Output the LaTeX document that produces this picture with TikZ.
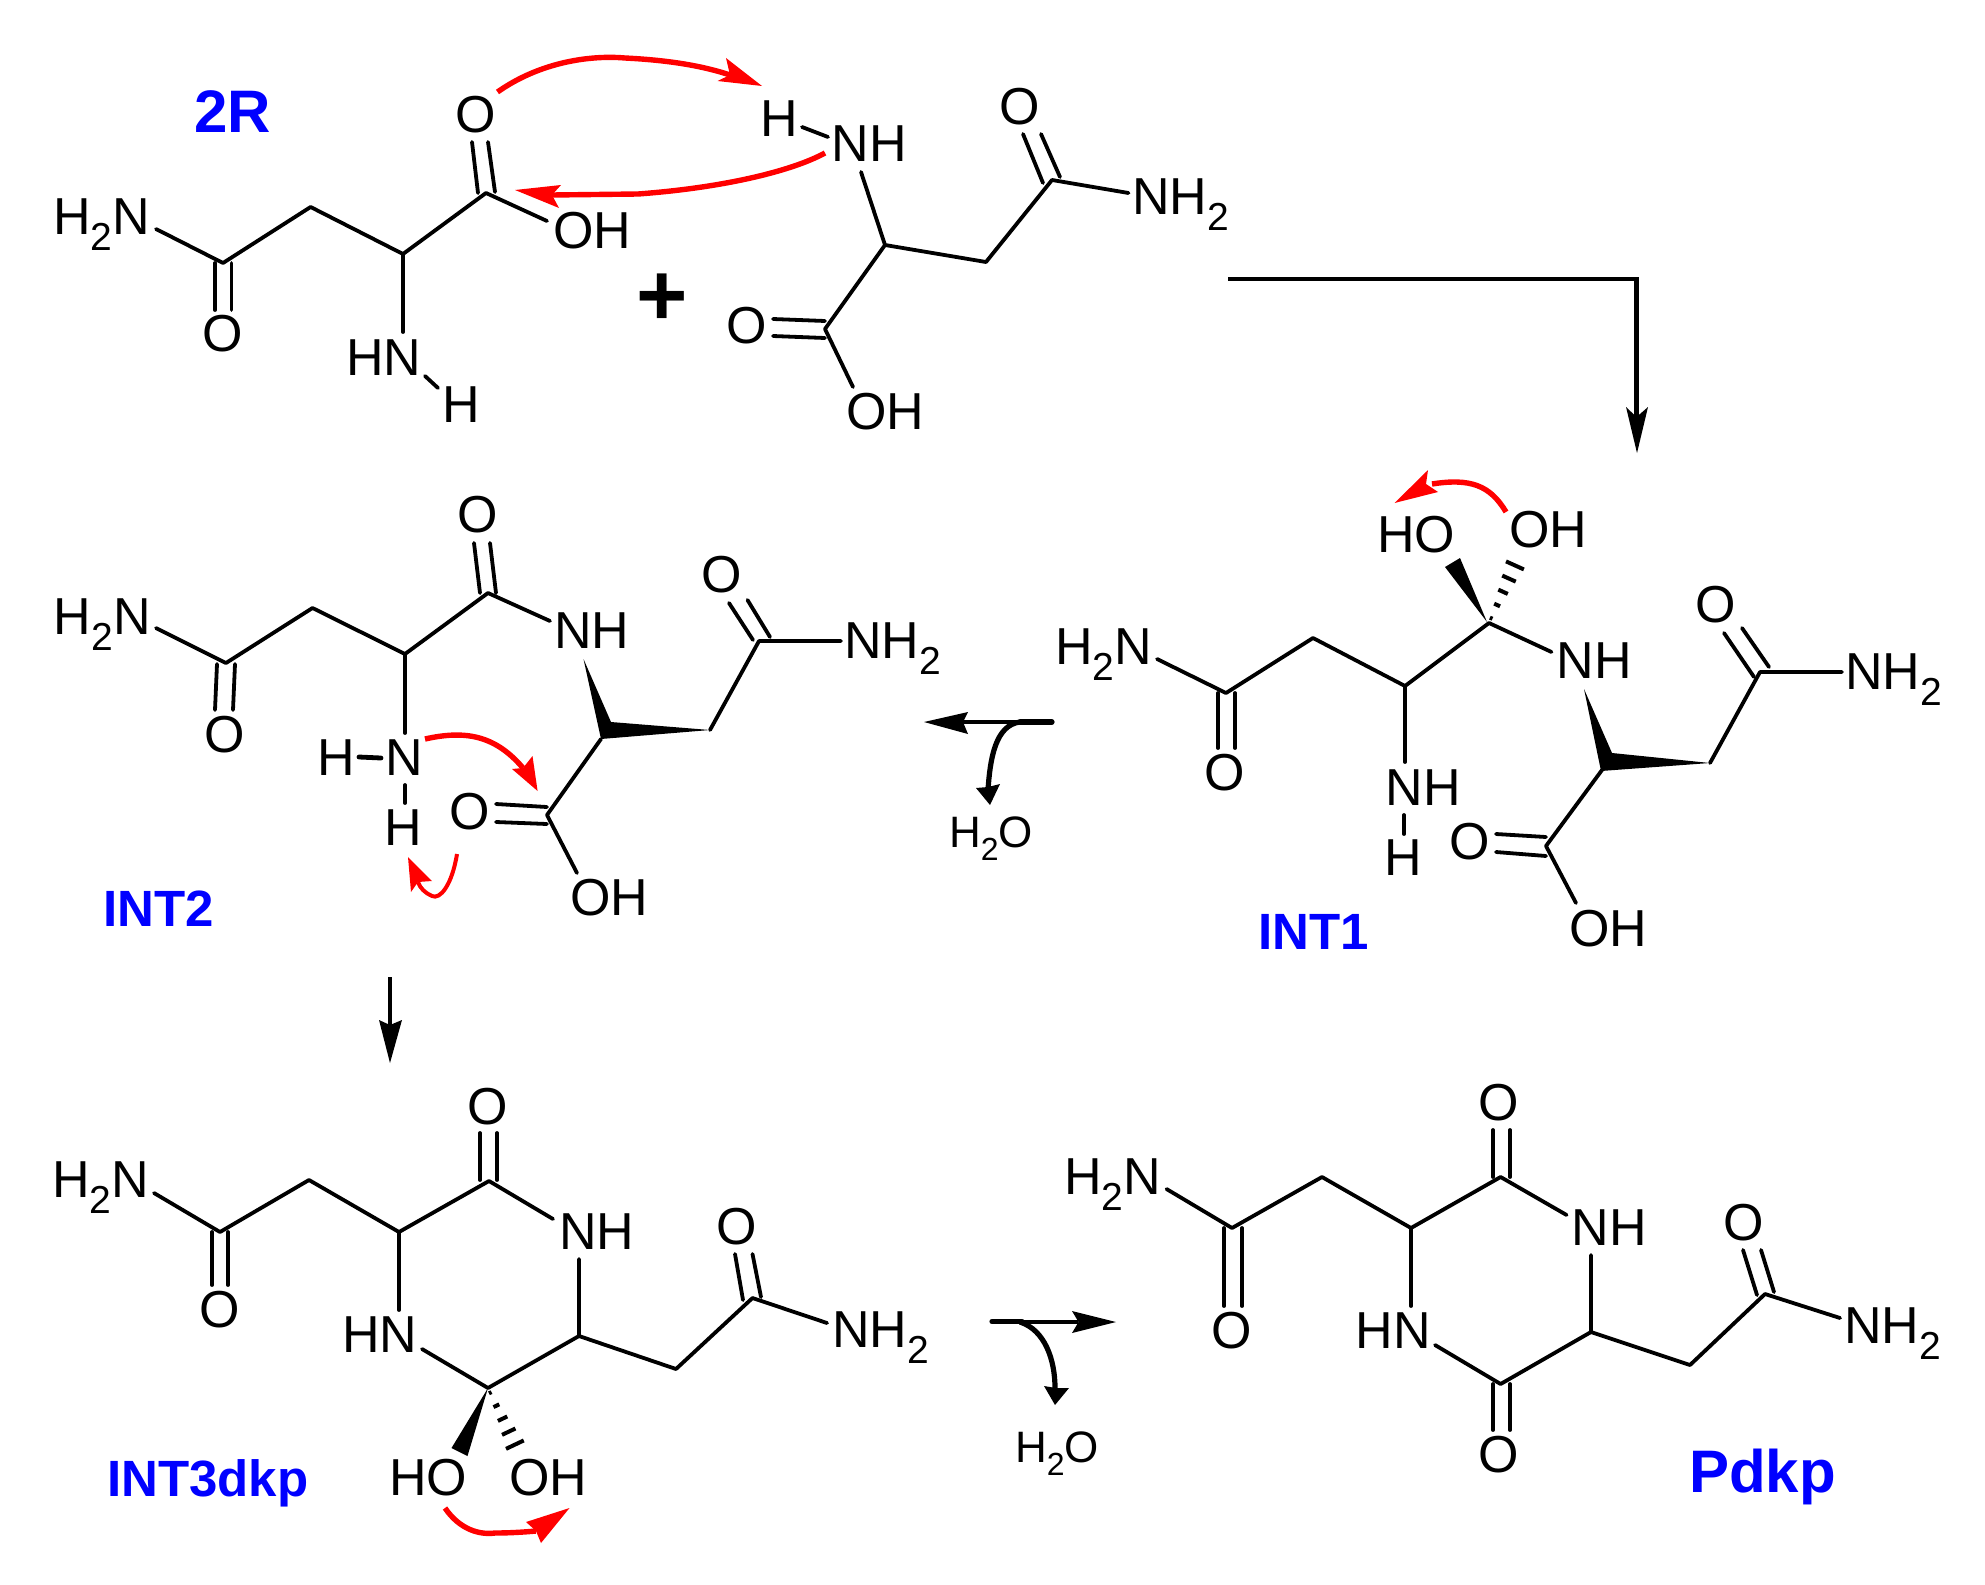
\documentclass[tikz,border=0pt]{standalone}
\usepackage{fontspec}
\setmainfont{Liberation Sans}
\usetikzlibrary{calc}
\newcommand{\lowtwo}{\raisebox{-8pt}{\fontsize{19.5}{19.5}\selectfont 2}}
\newcommand{\lowtwosmall}{\raisebox{-6.5pt}{\fontsize{16}{16}\selectfont 2}}
\tikzset{
  atom/.style={inner sep=0pt,outer sep=0pt,font=\fontsize{26}{26}\selectfont,text=black},
  water/.style={inner sep=0pt,outer sep=0pt,anchor=base west,font=\fontsize{22}{24}\selectfont,text=black},
  molname/.style={inner sep=0pt,outer sep=0pt,anchor=base west,font=\fontsize{25.5}{26}\selectfont\bfseries,text=namecol},
  bond/.style={line width=1.9pt,line cap=round,line join=round,black},
  hashline/.style={line width=2pt,black},
  redarc/.style={line width=2.7pt,red0},
  redarcthin/.style={line width=2pt,red0},
  react/.style={line width=2.1pt,black},
  reactthick/.style={line width=2.6pt,black},
}
\definecolor{namecol}{HTML}{0000FF}
\definecolor{red0}{HTML}{FF0000}
% tip, barb, notch, barb
\newcommand{\headshape}[5][black]{\fill[#1] (#2) -- (#3) -- (#4) -- (#5) -- cycle;}
\newcommand{\hashed}[2]{%
  \foreach \f/\w in {0.08/0.7,0.3/1.6,0.52/2.6,0.74/3.7,0.96/4.9}{%
    \coordinate (hp) at ($(#1)!\f!(#2)$);
    \draw[hashline] ($(hp)!\w pt!90:(#2)$) -- ($(hp)!\w pt!-90:(#2)$);
  }}
\begin{document}
\begin{tikzpicture}[x=0.5pt,y=-0.5pt]
\useasboundingbox (0,0) rectangle (1985,1584);
\path[fill=white] (0,0) rectangle (1985,1584);

%%%%%%%%%% 2R
\node[molname,font=\fontsize{30}{30}\selectfont\bfseries] (n2R) at (194,133) {2R};
\node[atom,anchor=base west] (rN) at (53,234) {H\lowtwo N};
\node[atom] (rO1) at (222.5,334) {O};
\node[atom] (rO2) at (476,115) {O};
\node[atom] (rOH) at (592,231) {OH};
\node[atom] (rHN) at (384,358) {HN};
\node[atom] (rH) at (461,405) {H};
\coordinate (ra) at (223,263); \coordinate (rb) at (310.6,207);
\coordinate (rc) at (403,254); \coordinate (rd) at (486,193);
\draw[bond] (156,229) -- (ra) -- (rb) -- (rc) -- (rd) -- (547,221);
\draw[bond] (rc) -- (403,332);
\draw[bond] (425,376) -- (438,388);
\draw[bond] (215,263) -- (215,310);
\draw[bond] (231.5,263) -- (231.5,310);
\draw[bond] (472,142) -- (478,193);
\draw[bond] (488,142) -- (495,192);

%%%%%%%%%% plus
\node[atom,font=\fontsize{44}{44}\selectfont\bfseries] (plus) at (662,300) {+};

%%%%%%%%%% second amino acid
\node[atom] (sH) at (779,119) {H};
\node[atom] (sNH) at (869,144) {NH};
\node[atom] (sO1) at (1020,107) {O};
\node[atom,anchor=base west] (sN) at (1132,214) {NH\lowtwo};
\node[atom] (sO2) at (747,326) {O};
\node[atom] (sOH) at (885,412) {OH};
\coordinate (sa) at (885,245); \coordinate (sb) at (986,262);
\coordinate (sc) at (1052,180); \coordinate (sd) at (825,329);
\draw[bond] (802,127) -- (828,137);
\draw[bond] (861,172) -- (sa) -- (sb) -- (sc) -- (1128.5,193);
\draw[bond] (sa) -- (sd) -- (853,387);
\draw[bond] (1023,134) -- (1043,183);
\draw[bond] (1041,134) -- (1060,177);
\draw[bond] (773,319) -- (825,321);
\draw[bond] (773,336) -- (825,338);

%%%%%%%%%% red arrows top
\draw[redarc] (497.5,92) .. controls (540,62) and (590,55) .. (625,58) .. controls (665,60) and (700,65) .. (730,75);
\headshape[red0]{762,86}{726,58}{730,75}{717.5,81}
\draw[redarc] (825,153) .. controls (790,172) and (720,188) .. (638,194) -- (552,195);
\headshape[red0]{515,190}{561,185}{552,195}{559,208}

%%%%%%%%%% big arrow
\draw[react,line join=miter] (1228,279) -- (1636.5,279) -- (1636.5,420);
\headshape{1637,453}{1626,407}{1636.5,417}{1648,407}

%%%%%%%%%% INT1
\node[atom,anchor=base west] (iN) at (1055,664) {H\lowtwo N};
\node[atom] (iO1) at (1225,773) {O};
\node[atom] (iHO) at (1416,535) {HO};
\node[atom] (iOH) at (1548,530) {OH};
\node[atom] (iNH1) at (1594,661) {NH};
\node[atom] (iNH2) at (1423,788) {NH};
\node[atom] (iH) at (1403.5,858) {H};
\node[atom] (iO2) at (1716,605) {O};
\node[atom,anchor=base west] (iN2) at (1845,689) {NH\lowtwo};
\node[atom] (iO3) at (1470,842) {O};
\node[atom] (iOH2) at (1608,929) {OH};
\node[molname] (nI1) at (1258,949) {INT1};
\coordinate (ia) at (1226,693); \coordinate (ib) at (1313,638);
\coordinate (ic) at (1405,686); \coordinate (id) at (1489,623);
\coordinate (ie) at (1602,770); \coordinate (if) at (1710,763);
\coordinate (ig) at (1760,672); \coordinate (ih) at (1546,846);
\draw[bond] (1157,659) -- (ia) -- (ib) -- (ic) -- (id) -- (1551.5,652);
\draw[bond] (ic) -- (1405,762);
\draw[bond] (1404,815) -- (1404,834);
\draw[bond] (if) -- (ig) -- (1842,672);
\draw[bond] (ie) -- (ih) -- (1576,903);
\draw[bond] (1218,693) -- (1218,748);
\draw[bond] (1235,693) -- (1235,748);
\draw[bond] (1724,633) -- (1754,677);
\draw[bond] (1742,628) -- (1769,667);
\draw[bond] (1496,834) -- (1546,837);
\draw[bond] (1496,852) -- (1546,856);
\fill (1487,622) -- (1445,567) -- (1460,558) -- cycle;
\hashed{id}{1516,563}
\fill (1584,689) -- (1612,753) -- (1710,763) -- (1601,771) -- cycle;
\draw[redarc] (1506,512) .. controls (1490,485) and (1470,478) .. (1432,484);
\headshape[red0]{1394.5,503}{1428,470}{1426,484}{1438,492}

%%%%%%%%%% mid arrow
\draw[react] (1020,722) -- (963,722);
\draw[reactthick,line cap=round] (1020,722) -- (1052,722);
\headshape{924,722}{968,712}{963,722}{968,734}
\draw[reactthick] (1020,722) .. controls (995,725) and (990,760) .. (988,790);
\headshape{990,805}{976,788}{988,787}{1000,784}
\node[water] (w1) at (949,847) {H\lowtwosmall O};

%%%%%%%%%% INT2
\node[atom,anchor=base west] (jN) at (54,634) {H\lowtwo N};
\node[atom] (jO1) at (224.5,735) {O};
\node[atom] (jO2) at (478,515) {O};
\node[atom] (jNH) at (592,631) {NH};
\node[atom] (jN3) at (404,758) {N};
\node[atom] (jH1) at (336,758) {H};
\node[atom] (jH2) at (403,828) {H};
\node[atom] (jO3) at (722,575) {O};
\node[atom,anchor=base west] (jN2) at (844,658) {NH\lowtwo};
\node[atom] (jO4) at (470,812) {O};
\node[atom] (jOH) at (609,898) {OH};
\node[molname] (nI2) at (103,926) {INT2};
\coordinate (ja) at (226,663); \coordinate (jb) at (312.5,608);
\coordinate (jc) at (405,654); \coordinate (jd) at (488,593);
\coordinate (je) at (601,739); \coordinate (jf) at (710,730);
\coordinate (jg) at (759,641); \coordinate (jh) at (547,815);
\draw[bond] (156,628) -- (ja) -- (jb) -- (jc) -- (jd) -- (550,621);
\draw[bond] (jc) -- (405,733);
\draw[bond,line width=2.4pt] (359,757) -- (381,758);
\draw[bond] (405,785) -- (405,803);
\draw[bond] (jf) -- (jg) -- (841,641);
\draw[bond] (je) -- (jh) -- (577,873);
\draw[bond] (217,664) -- (215,710);
\draw[bond] (235,664) -- (233,710);
\draw[bond] (474,543) -- (480,593);
\draw[bond] (490,543) -- (496,593);
\draw[bond] (729,603) -- (753,640);
\draw[bond] (747.5,600) -- (770,637);
\draw[bond] (496,804) -- (547,807);
\draw[bond] (496,822) -- (547,824);
\fill (583.5,659) -- (611,722) -- (710,730) -- (601,739) -- cycle;
\draw[redarc] (425,739) .. controls (465,730) and (495,735) .. (523,768);
\headshape[red0]{537.6,791}{512,769}{523,768}{532.5,756}
\draw[redarcthin] (457,854) .. controls (452,885) and (440,900) .. (432,896) .. controls (425,893) and (420,888) .. (418,882);
\headshape[red0]{408,857}{411,892}{418,882}{432,881}

%%%%%%%%%% arrow INT2 -> INT3
\draw[react] (390,977) -- (390,1025);
\headshape{390,1063}{379,1020}{390,1025}{402,1020}

%%%%%%%%%% INT3dkp
\node[atom,anchor=base west] (kN) at (52,1197) {H\lowtwo N};
\node[atom] (kO1) at (220,1310) {O};
\node[atom] (kO2) at (488,1107) {O};
\node[atom] (kNH) at (597,1232) {NH};
\node[atom] (kHN) at (380,1335) {HN};
\node[atom] (kO3) at (737,1227) {O};
\node[atom,anchor=base west] (kN2) at (832,1347) {NH\lowtwo};
\node[atom] (kHO) at (428,1478) {HO};
\node[atom] (kOH) at (548,1478) {OH};
\node[molname] (nI3) at (107,1496) {INT3dkp};
\coordinate (ka) at (220,1232); \coordinate (kb) at (309,1180);
\coordinate (kc) at (399,1232); \coordinate (kd) at (489,1181);
\coordinate (ke) at (579,1336); \coordinate (kf) at (488,1388);
\coordinate (kg) at (676,1369); \coordinate (kh) at (752.5,1298);
\draw[bond] (154,1193) -- (ka) -- (kb) -- (kc) -- (kd) -- (553,1219);
\draw[bond] (kc) -- (399,1310);
\draw[bond] (579,1259) -- (ke) -- (kf) -- (422,1349);
\draw[bond] (ke) -- (kg) -- (kh) -- (827,1323);
\draw[bond] (212,1232) -- (212,1285);
\draw[bond] (228,1232) -- (228,1285);
\draw[bond] (480,1133) -- (480,1180);
\draw[bond] (497,1133) -- (497,1180);
\draw[bond] (735,1254) -- (743,1300);
\draw[bond] (752.5,1254) -- (761,1297);
\fill (kf) -- (451.5,1448) -- (467.5,1456) -- cycle;
\hashed{kf}{516,1447}
\draw[redarc] (445,1508) .. controls (460,1530) and (480,1535) .. (495,1533) .. controls (510,1533) and (525,1532) .. (536,1531);
\headshape[red0]{569.5,1508}{526,1522}{536,1531}{541,1543}

%%%%%%%%%% bottom arrow
\draw[react] (1022,1322) -- (1078,1322);
\draw[reactthick,line cap=round] (992,1321.5) -- (1022,1321.5);
\headshape{1116,1322}{1072,1311}{1078.5,1322}{1072,1333}
\draw[reactthick] (1020,1322) .. controls (1045,1330) and (1055,1360) .. (1055,1388);
\headshape{1055,1405}{1044,1386}{1056,1388}{1069,1388}
\node[water] (w2) at (1015,1462) {H\lowtwosmall O};

%%%%%%%%%% Pdkp
\node[atom,anchor=base west] (pN) at (1064,1194) {H\lowtwo N};
\node[atom] (pO1) at (1232,1331) {O};
\node[atom] (pO2) at (1499,1103) {O};
\node[atom] (pNH) at (1609,1228) {NH};
\node[atom] (pHN) at (1393,1331) {HN};
\node[atom] (pO3) at (1499,1455) {O};
\node[atom] (pO4) at (1744,1223) {O};
\node[atom,anchor=base west] (pN2) at (1844,1343) {NH\lowtwo};
\node[molname,font=\fontsize{30}{30}\selectfont\bfseries] (nP) at (1689,1492) {Pdkp};
\coordinate (pa) at (1232,1228); \coordinate (pb) at (1322,1177);
\coordinate (pc) at (1411,1228); \coordinate (pd) at (1500.6,1177);
\coordinate (pe) at (1591,1332); \coordinate (pf) at (1500.6,1384);
\coordinate (pg) at (1690,1365); \coordinate (ph) at (1765,1294);
\draw[bond] (1166.5,1189) -- (pa) -- (pb) -- (pc) -- (pd) -- (1566.6,1215);
\draw[bond] (pc) -- (1411,1306);
\draw[bond] (1591,1255) -- (pe) -- (pf) -- (1435,1345);
\draw[bond] (pe) -- (pg) -- (ph) -- (1840,1318);
\draw[bond] (1224,1228) -- (1224,1306);
\draw[bond] (1242,1228) -- (1242,1306);
\draw[bond] (1493,1130) -- (1493,1177);
\draw[bond] (1510,1130) -- (1510,1177);
\draw[bond] (1493,1384) -- (1493,1430);
\draw[bond] (1510,1384) -- (1510,1430);
\draw[bond] (1743,1250) -- (1757,1295);
\draw[bond] (1761,1250) -- (1774,1292);
\end{tikzpicture}
\end{document}
